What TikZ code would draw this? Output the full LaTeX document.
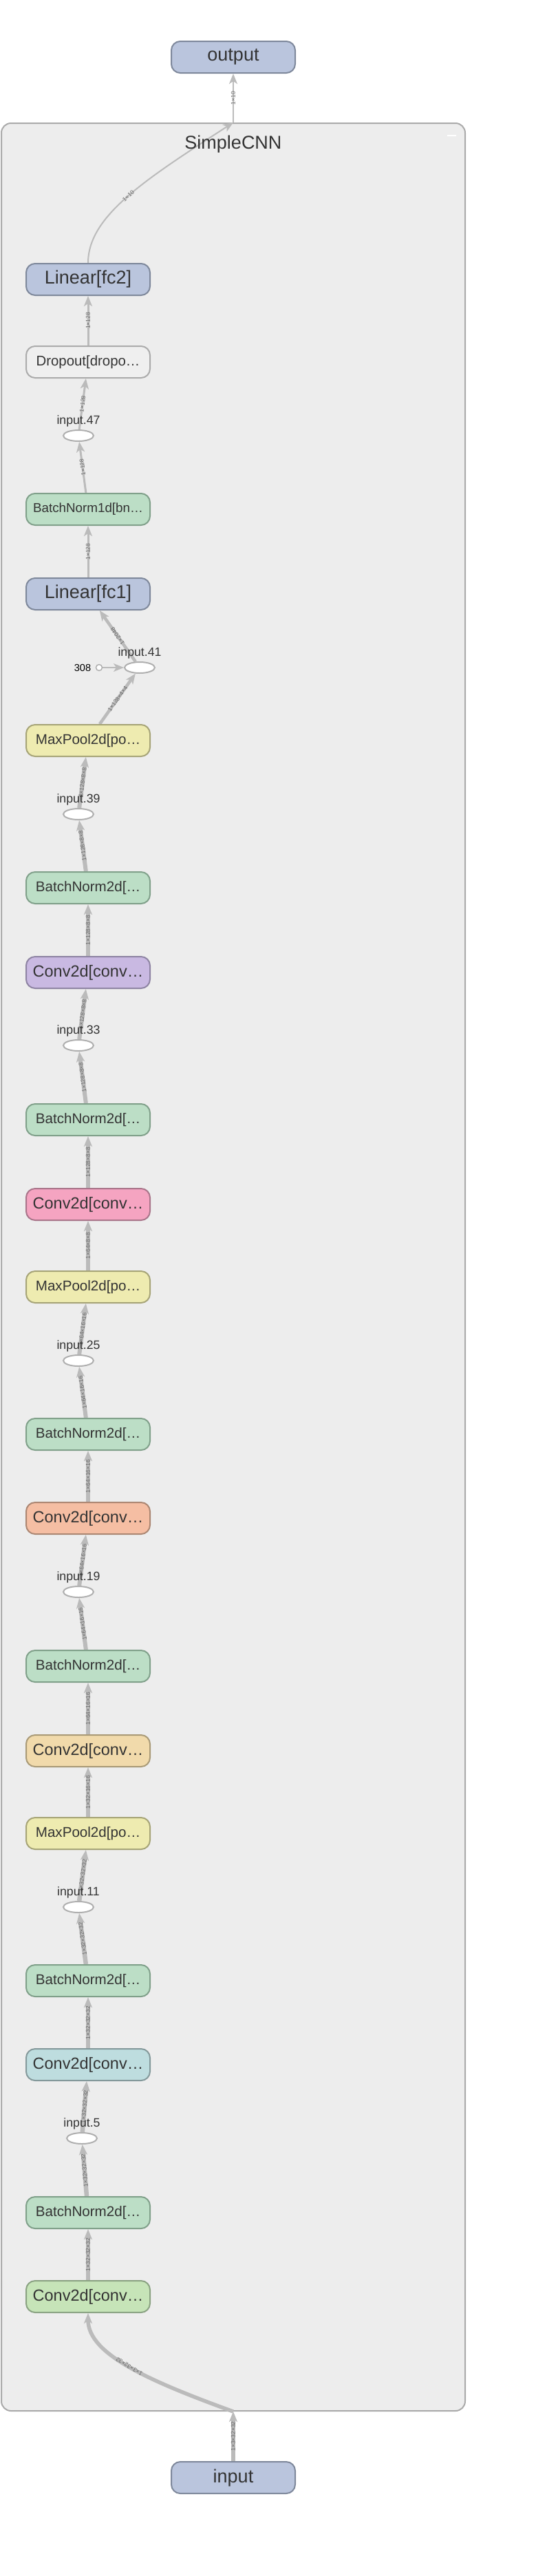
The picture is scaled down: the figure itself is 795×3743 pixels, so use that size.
\documentclass[tikz,border=0pt]{standalone}
\usepackage{fontspec}
\setmainfont{Liberation Sans}
\usetikzlibrary{backgrounds,shapes,arrows.meta}
\pgfdeclarelayer{clusterlayer}
\pgfdeclarelayer{edgelayer}
\pgfdeclarelayer{nodelayer}
\pgfsetlayers{clusterlayer,edgelayer,nodelayer,main}
\definecolor{textgray}{HTML}{333333}
\definecolor{edgegray}{HTML}{BBBBBB}
\definecolor{labelgray}{HTML}{666666}
\definecolor{clusterfill}{HTML}{EDEDED}
\definecolor{clusterdraw}{HTML}{AAAAAA}
\definecolor{tensordraw}{HTML}{AFAFAF}
\definecolor{linfill}{HTML}{BAC5DD}
\definecolor{lindraw}{HTML}{7E889B}
\definecolor{bnfill}{HTML}{BCDEC6}
\definecolor{bndraw}{HTML}{80A08A}
\definecolor{poolfill}{HTML}{EEEBB0}
\definecolor{pooldraw}{HTML}{A6A477}
\definecolor{dropfill}{HTML}{EFEFEF}
\definecolor{dropdraw}{HTML}{ABABAB}
\definecolor{convA}{HTML}{C9B9E2}
\definecolor{convAd}{HTML}{8E84A3}
\definecolor{convB}{HTML}{F5A4C1}
\definecolor{convBd}{HTML}{A9758A}
\definecolor{convC}{HTML}{F5BEA3}
\definecolor{convCd}{HTML}{AB8672}
\definecolor{convD}{HTML}{F1DAAB}
\definecolor{convDd}{HTML}{A99A77}
\definecolor{convE}{HTML}{BEDDDF}
\definecolor{convEd}{HTML}{84999B}
\definecolor{convF}{HTML}{C6E4B8}
\definecolor{convFd}{HTML}{8AA282}
\tikzset{font=\fontsize{20}{20}\selectfont}
\tikzstyle{none}=[inner sep=0pt, text=textgray]
\tikzstyle{op}=[rectangle, rounded corners=13pt, minimum width=180pt, minimum height=46pt, line width=2pt, inner sep=2pt, text=textgray]
\tikzstyle{linear}=[op, fill=linfill, draw=lindraw, font=\fontsize{27}{27}\selectfont]
\tikzstyle{conv}=[op, font=\fontsize{23.5}{23.5}\selectfont]
\tikzstyle{bnorm}=[op, fill=bnfill, draw=bndraw, font=\fontsize{20.6}{20.6}\selectfont]
\tikzstyle{pool}=[op, fill=poolfill, draw=pooldraw, font=\fontsize{20.6}{20.6}\selectfont]
\tikzstyle{drop}=[op, fill=dropfill, draw=dropdraw, font=\fontsize{20.4}{20.4}\selectfont]
\tikzstyle{tensor}=[ellipse, fill=white, draw=tensordraw, line width=2pt, minimum width=44pt, minimum height=16pt, inner sep=0pt, label distance=0pt]
\tikzstyle{tensorname}=[font=\fontsize{17.7}{17.7}\selectfont, text=textgray]
\tikzstyle{const}=[circle, fill=white, draw=tensordraw, line width=1.5pt, minimum size=9pt, inner sep=0pt]
\tikzstyle{flow}=[draw=edgegray, -{Stealth[length=15pt,width=12pt,inset=4pt]}]
\tikzstyle{dimlabel}=[midway, sloped, allow upside down, inner sep=1pt, text=labelgray, font=\fontsize{8.5}{8.5}\selectfont]
\tikzstyle{cluster}=[rectangle, rounded corners=14pt, fill=clusterfill, draw=clusterdraw, line width=2pt, minimum width=674pt, minimum height=3324pt]

\begin{document}
\begin{tikzpicture}[x=1pt, y=1pt]
	\useasboundingbox (0, 0) rectangle (795, -3743);
	\begin{pgfonlayer}{clusterlayer}
		\node [style=cluster] (1) at (339, -1841) {};
	\end{pgfonlayer}
	\begin{pgfonlayer}{nodelayer}
		\node [style=linear] (0) at (339, -83) {output};
		\node [style=none, font=\fontsize{27}{27}\selectfont] (2) at (339, -210) {SimpleCNN};
		\draw [white, line width=2.5pt] (650, -197) -- (663, -197);
		\node [style=linear] (3) at (128, -406) {Linear[fc2]};
		\node [style=drop] (4) at (128, -526) {Dropout[dropo…};
		\node [style=tensor, label={[style=tensorname]above:input.47}] (5) at (114, -633) {};
		\node [style=bnorm, font=\fontsize{18.8}{18.8}\selectfont] (6) at (128, -740) {BatchNorm1d[bn…};
		\node [style=linear] (7) at (128, -863) {Linear[fc1]};
		\node [style=tensor, label={[style=tensorname]above:input.41}] (8) at (203, -970) {};
		\node [style=const, label={[font=\fontsize{14.6}{14.6}\selectfont, text=black, label distance=3pt]left:308}] (9) at (144, -970) {};
		\node [style=pool] (10) at (128, -1076) {MaxPool2d[po…};
		\node [style=tensor, label={[style=tensorname]above:input.39}] (11) at (114, -1183) {};
		\node [style=bnorm] (12) at (128, -1290) {BatchNorm2d[…};
		\node [style=conv, fill=convA, draw=convAd] (13) at (128, -1413) {Conv2d[conv…};
		\node [style=tensor, label={[style=tensorname]above:input.33}] (14) at (114, -1519) {};
		\node [style=bnorm] (15) at (128, -1627) {BatchNorm2d[…};
		\node [style=conv, fill=convB, draw=convBd] (16) at (128, -1750) {Conv2d[conv…};
		\node [style=pool] (17) at (128, -1870) {MaxPool2d[po…};
		\node [style=tensor, label={[style=tensorname]above:input.25}] (18) at (114, -1977) {};
		\node [style=bnorm] (19) at (128, -2084) {BatchNorm2d[…};
		\node [style=conv, fill=convC, draw=convCd] (20) at (128, -2206) {Conv2d[conv…};
		\node [style=tensor, label={[style=tensorname]above:input.19}] (21) at (114, -2313) {};
		\node [style=bnorm] (22) at (128, -2421) {BatchNorm2d[…};
		\node [style=conv, fill=convD, draw=convDd] (23) at (128, -2544) {Conv2d[conv…};
		\node [style=pool] (24) at (128, -2664) {MaxPool2d[po…};
		\node [style=tensor, label={[style=tensorname]above:input.11}] (25) at (114, -2771) {};
		\node [style=bnorm] (26) at (128, -2878) {BatchNorm2d[…};
		\node [style=conv, fill=convE, draw=convEd] (27) at (128, -3000) {Conv2d[conv…};
		\node [style=tensor, label={[style=tensorname]above:input.5}] (28) at (119, -3107) {};
		\node [style=bnorm] (29) at (128, -3215) {BatchNorm2d[…};
		\node [style=conv, fill=convF, draw=convFd] (30) at (128, -3337) {Conv2d[conv…};
		\node [style=linear] (31) at (339, -3600) {input};
	\end{pgfonlayer}
	\begin{pgfonlayer}{edgelayer}
		\draw [style=flow, line width=5.5pt] (31) to node[style=dimlabel] {1×3×32×32} (1.south);
		\draw [style=flow, line width=5.5pt] [out=160, in=-90, out looseness=1.3, in looseness=0.6] (1.south) to node[style=dimlabel] {1×3×32×32} (30);
		\draw [style=flow, line width=6.5pt] (30) to node[style=dimlabel] {1×32×32×32} (29);
		\draw [style=flow, line width=6.5pt] (29) to node[style=dimlabel] {1×32×32×32} (28);
		\draw [style=flow, line width=6.5pt] (28) to node[style=dimlabel] {1×32×32×32} (27);
		\draw [style=flow, line width=6.5pt] (27) to node[style=dimlabel] {1×32×32×32} (26);
		\draw [style=flow, line width=6.5pt] (26) to node[style=dimlabel] {1×32×32×32} (25);
		\draw [style=flow, line width=6.5pt] (25) to node[style=dimlabel] {1×32×32×32} (24);
		\draw [style=flow, line width=5.5pt] (24) to node[style=dimlabel] {1×32×16×16} (23);
		\draw [style=flow, line width=6pt] (23) to node[style=dimlabel] {1×64×16×16} (22);
		\draw [style=flow, line width=6pt] (22) to node[style=dimlabel] {1×64×16×16} (21);
		\draw [style=flow, line width=6pt] (21) to node[style=dimlabel] {1×64×16×16} (20);
		\draw [style=flow, line width=6pt] (20) to node[style=dimlabel] {1×64×16×16} (19);
		\draw [style=flow, line width=6pt] (19) to node[style=dimlabel] {1×64×16×16} (18);
		\draw [style=flow, line width=6pt] (18) to node[style=dimlabel] {1×64×16×16} (17);
		\draw [style=flow, line width=5.5pt] (17) to node[style=dimlabel] {1×64×8×8} (16);
		\draw [style=flow, line width=6pt] (16) to node[style=dimlabel] {1×128×8×8} (15);
		\draw [style=flow, line width=6pt] (15) to node[style=dimlabel] {1×128×8×8} (14);
		\draw [style=flow, line width=6pt] (14) to node[style=dimlabel] {1×128×8×8} (13);
		\draw [style=flow, line width=6pt] (13) to node[style=dimlabel] {1×128×8×8} (12);
		\draw [style=flow, line width=6pt] (12) to node[style=dimlabel] {1×128×8×8} (11);
		\draw [style=flow, line width=6pt] (11) to node[style=dimlabel] {1×128×8×8} (10);
		\draw [style=flow, line width=4.5pt] (10) to node[style=dimlabel] {1×128×4×4} (8);
		\draw [style=flow, line width=2pt] (9) to (8);
		\draw [style=flow, line width=4.5pt] (8) to node[style=dimlabel] {1×2048} (7);
		\draw [style=flow, line width=3pt] (7) to node[style=dimlabel] {1×128} (6);
		\draw [style=flow, line width=3pt] (6) to node[style=dimlabel] {1×128} (5);
		\draw [style=flow, line width=3pt] (5) to node[style=dimlabel] {1×128} (4);
		\draw [style=flow, line width=3pt] (4) to node[style=dimlabel] {1×128} (3);
		\draw [style=flow, line width=2pt] [out=90, in=-147, out looseness=0.6, in looseness=1.3] (3) to node[style=dimlabel] {1×10} (1.north);
		\draw [style=flow, line width=2pt] (1.north) to node[style=dimlabel] {1×10} (0);
	\end{pgfonlayer}
\end{tikzpicture}
\end{document}
